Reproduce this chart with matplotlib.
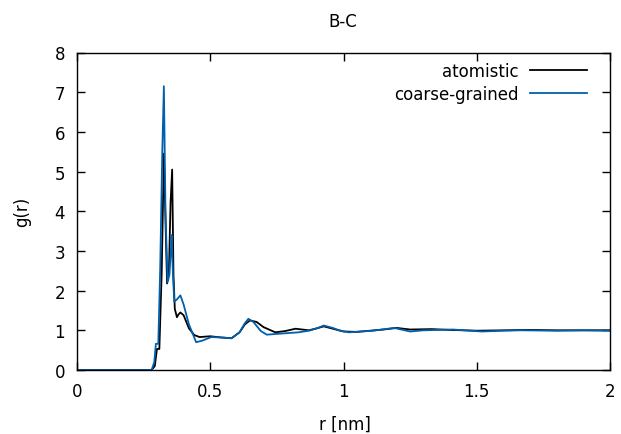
import matplotlib
matplotlib.use("Agg")
import matplotlib.pyplot as plt

# atomistic g(r)
r_atom = [0.0, 0.28, 0.292, 0.300, 0.309, 0.318, 0.326, 0.333, 0.338, 0.345, 0.351, 0.357,
          0.362, 0.367, 0.375, 0.381, 0.388, 0.400, 0.420, 0.440, 0.460, 0.500, 0.540,
          0.580, 0.610, 0.630, 0.649, 0.674, 0.700, 0.744, 0.780, 0.820, 0.870, 0.900,
          0.926, 0.960, 1.000, 1.050, 1.100, 1.150, 1.200, 1.250, 1.330, 1.400, 1.500,
          1.600, 1.700, 1.800, 1.900, 2.000]
g_atom = [0.0, 0.0, 0.10, 0.53, 0.53, 2.5, 5.45, 3.5, 2.18, 2.5, 4.2, 5.05,
          2.4, 1.54, 1.33, 1.40, 1.45, 1.38, 1.05, 0.88, 0.83, 0.85, 0.82,
          0.80, 0.95, 1.15, 1.25, 1.21, 1.08, 0.95, 0.98, 1.04, 1.00, 1.05,
          1.10, 1.04, 0.97, 0.96, 0.99, 1.02, 1.06, 1.02, 1.03, 1.01, 0.99,
          1.00, 1.01, 1.00, 1.00, 1.00]

# coarse-grained g(r)
r_cg = [0.0, 0.28, 0.290, 0.296, 0.305, 0.312, 0.320, 0.326, 0.332, 0.340, 0.347, 0.352,
        0.355, 0.360, 0.365, 0.375, 0.388, 0.400, 0.420, 0.447, 0.470, 0.504, 0.540,
        0.580, 0.610, 0.630, 0.643, 0.662, 0.690, 0.712, 0.750, 0.832, 0.870, 0.900,
        0.926, 0.960, 0.983, 1.020, 1.110, 1.190, 1.250, 1.300, 1.410, 1.520, 1.600,
        1.660, 1.800, 1.900, 2.000]
g_cg = [0.0, 0.0, 0.20, 0.66, 0.66, 2.5, 5.5, 7.15, 4.0, 2.22, 2.4, 3.0,
        3.4, 2.4, 1.72, 1.78, 1.88, 1.65, 1.15, 0.70, 0.74, 0.83, 0.82,
        0.80, 0.95, 1.18, 1.29, 1.21, 0.98, 0.89, 0.91, 0.95, 0.99, 1.05,
        1.12, 1.06, 1.00, 0.95, 0.99, 1.06, 0.97, 1.00, 1.02, 0.97, 0.99,
        1.00, 0.99, 1.00, 0.99]

x_ticks = [0, 0.5, 1, 1.5, 2]
x_ticklabels = ["0", "0.5", "1", "1.5", "2"]
y_ticks = [0, 1, 2, 3, 4, 5, 6, 7, 8]

plt.rcParams['font.family'] = ['DejaVu Sans']
fig = plt.figure(figsize=(6.21, 4.35), dpi=100)
L, R, T, B = 77, 610, 53.5, 371
ax = fig.add_axes([L/621, 1-B/435, (R-L)/621, (B-T)/435])

ax.plot(r_atom, g_atom, color='black', lw=1.3, label='atomistic')
ax.plot(r_cg, g_cg, color='#0060ad', lw=1.3, label='coarse-grained')

ax.set_xlim(0, 2)
ax.set_ylim(0, 8)
ax.set_xticks(x_ticks)
ax.set_xticklabels(x_ticklabels)
ax.set_yticks(y_ticks)
ax.tick_params(direction='in', length=6, width=1, top=True, right=True,
               labelsize=12)
ax.tick_params(axis='x', pad=9)
ax.tick_params(axis='y', pad=8.5)
for s in ax.spines.values():
    s.set_linewidth(1)

fig.text(345/621, 1-425/435, 'r [nm]', fontsize=12, ha='center', va='center')
fig.text(22/621, 1-212/435, 'g(r)', fontsize=12, ha='center', va='center', rotation=90)
fig.text(343/621, 1-22/435, 'B-C', fontsize=12, ha='center', va='center')

ax.legend(loc='upper right', frameon=False, markerfirst=False, fontsize=12,
          handlelength=3.4, handletextpad=0.7, labelspacing=0.3,
          borderaxespad=0, borderpad=0,
          bbox_to_anchor=((587-L)/(R-L), (B-63)/(B-T)))

fig.savefig('out.png', dpi=100)
